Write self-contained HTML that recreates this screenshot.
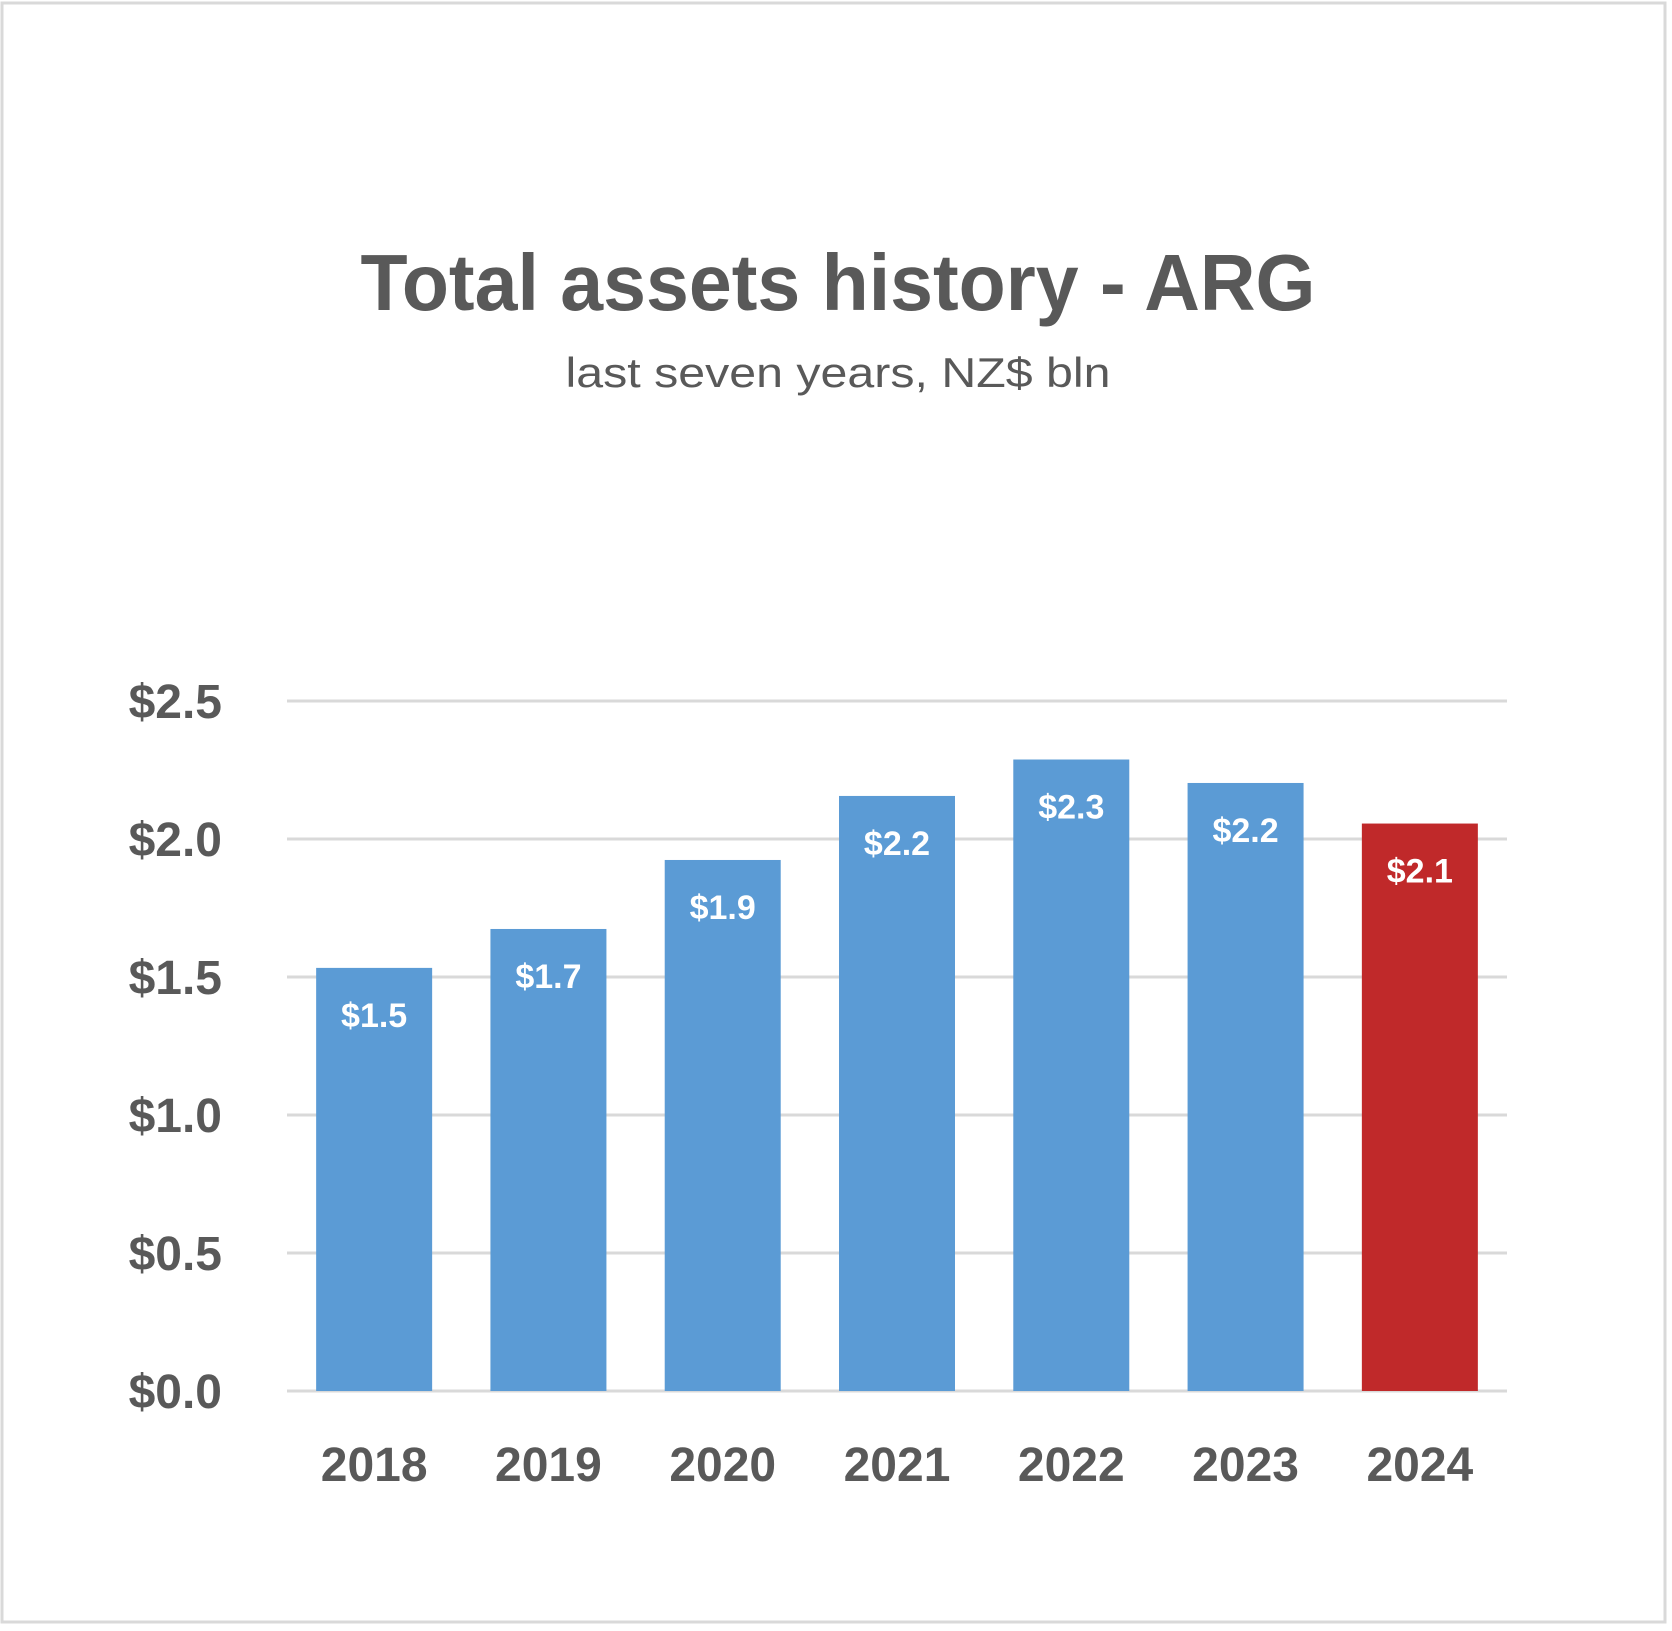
<!DOCTYPE html>
<html><head><meta charset="utf-8"><style>
html,body{margin:0;padding:0;background:#fff}
svg{display:block;font-family:"Liberation Sans",sans-serif}
</style></head><body>
<svg id="chart" width="1672" height="1631" viewBox="0 0 1672 1631">
<rect x="2" y="3" width="1663" height="1619" fill="#fff" stroke="#d9d9d9" stroke-width="3"/>
<text x="838" y="310" text-anchor="middle" font-size="80" font-weight="bold" fill="#595959" textLength="955" lengthAdjust="spacingAndGlyphs">Total assets history - ARG</text>
<text x="838" y="387" text-anchor="middle" font-size="42" fill="#595959" textLength="545" lengthAdjust="spacingAndGlyphs">last seven years, NZ$ bln</text>
<g id="grid"></g>
<g id="bars"></g>
<g id="labels"></g>
</svg>
<script>
const categories = ["2018","2019","2020","2021","2022","2023","2024"];
const values = [1.533, 1.674, 1.924, 2.156, 2.288, 2.203, 2.056];
const valueLabels = ["$1.5","$1.7","$1.9","$2.2","$2.3","$2.2","$2.1"];
const ticks = [0, 0.5, 1.0, 1.5, 2.0, 2.5];
const tickLabels = ["$0.0","$0.5","$1.0","$1.5","$2.0","$2.5"];
const highlight = ["2024"];

const NS = "http://www.w3.org/2000/svg";
const left = 287, right = 1507, base = 1391, pxPerUnit = 276;
const step = (right - left) / categories.length, bw = 116;
const y = v => base - v * pxPerUnit;
const x = i => left + step * i + (step - bw) / 2;
function mk(tag, attrs, parent, text) {
  const e = document.createElementNS(NS, tag);
  for (const k in attrs) e.setAttribute(k, attrs[k]);
  if (text !== undefined) e.textContent = text;
  parent.appendChild(e); return e;
}
const grid = document.getElementById('grid');
const bars = document.getElementById('bars');
const labels = document.getElementById('labels');
ticks.forEach((t, i) => {
  const l = mk('line', {x1: left, x2: right, y1: y(t), y2: y(t), stroke: '#d9d9d9', 'stroke-width': 3}, grid);
  
  
  const tl = mk('text', {x: 222, y: y(t) + 17, 'text-anchor': 'end', 'font-size': 48, 'font-weight': 'bold', fill: '#595959'}, labels, tickLabels[i]);
  
  
});
categories.forEach((c, i) => {
  const hl = highlight.includes(c);
  const r = mk('rect', {x: x(i), y: y(values[i]), width: bw, height: values[i] * pxPerUnit, fill: hl ? '#C0292A' : '#5B9BD5'}, bars);
  
  
  const vl = mk('text', {x: x(i) + bw / 2, y: y(values[i]) + 59, 'text-anchor': 'middle', 'font-size': 34, 'font-weight': 'bold', fill: '#fff'}, labels, valueLabels[i]);
  
  
  const xl = mk('text', {x: x(i) + bw / 2, y: 1481, 'text-anchor': 'middle', 'font-size': 48, 'font-weight': 'bold', fill: '#595959'}, labels, c);
  
  
});
</script>
</body></html>
